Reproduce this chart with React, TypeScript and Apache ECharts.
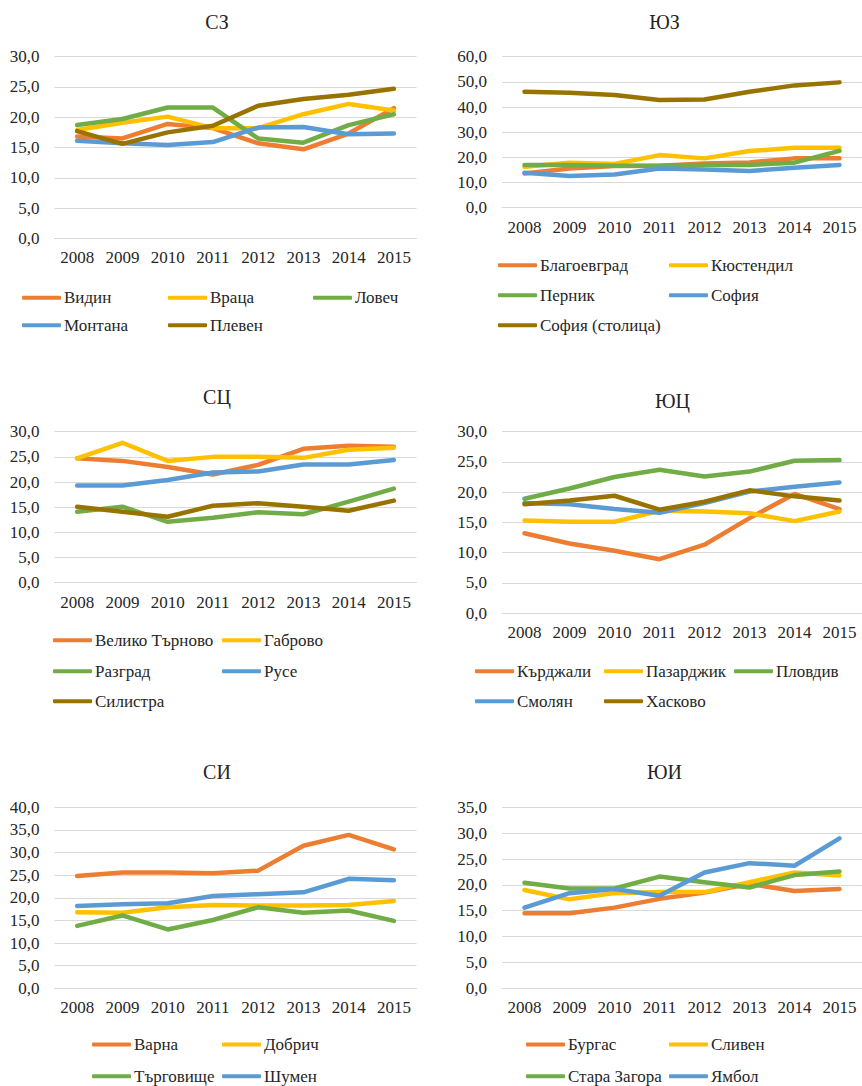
import React, { useEffect, useRef } from "react";
import * as echarts from "echarts";

// ---------- DATA ----------
const years = ["2008", "2009", "2010", "2011", "2012", "2013", "2014", "2015"];

const szNames = ["Видин", "Враца", "Ловеч", "Монтана", "Плевен"];
const szVidin = [16.8, 16.5, 18.9, 18.2, 15.7, 14.7, 17.3, 21.5];
const szVratsa = [17.9, 19.1, 20.1, 18.2, 18.2, 20.5, 22.2, 21.1];
const szLovech = [18.7, 19.7, 21.6, 21.6, 16.5, 15.8, 18.7, 20.5];
const szMontana = [16.1, 15.7, 15.4, 15.9, 18.3, 18.4, 17.2, 17.3];
const szPleven = [17.7, 15.6, 17.5, 18.6, 21.9, 23.0, 23.7, 24.7];

const yzNames = ["Благоевград", "Кюстендил", "Перник", "София", "София (столица)"];
const yzBlagoevgrad = [13.6, 15.6, 16.6, 16.7, 17.6, 18.0, 19.6, 19.6];
const yzKyustendil = [16.3, 17.9, 17.4, 20.9, 19.6, 22.5, 23.8, 23.8];
const yzPernik = [17.0, 17.0, 16.7, 16.7, 17.0, 17.0, 17.9, 22.6];
const yzSofia = [13.9, 12.6, 13.2, 15.6, 15.2, 14.6, 15.9, 17.0];
const yzSofiaCity = [46.1, 45.7, 44.8, 42.8, 43.0, 46.1, 48.6, 49.8];

const stsNames = ["Велико Търново", "Габрово", "Разград", "Русе", "Силистра"];
const stsVTarnovo = [24.7, 24.2, 23.0, 21.5, 23.4, 26.6, 27.2, 27.0];
const stsGabrovo = [24.7, 27.8, 24.2, 25.0, 25.0, 24.8, 26.4, 26.8];
const stsRazgrad = [14.1, 15.1, 12.1, 12.9, 14.0, 13.6, 16.1, 18.7];
const stsRuse = [19.3, 19.3, 20.4, 21.9, 22.1, 23.5, 23.5, 24.4];
const stsSilistra = [15.1, 14.1, 13.1, 15.3, 15.8, 15.1, 14.3, 16.3];

const yutsNames = ["Кърджали", "Пазарджик", "Пловдив", "Смолян", "Хасково"];
const yutsKardzhali = [13.2, 11.5, 10.3, 8.9, 11.3, 15.7, 19.7, 17.2];
const yutsPazardzhik = [15.3, 15.1, 15.1, 16.9, 16.8, 16.5, 15.2, 16.8];
const yutsPlovdiv = [18.9, 20.6, 22.5, 23.7, 22.6, 23.4, 25.2, 25.3];
const yutsSmolyan = [18.2, 18.0, 17.2, 16.6, 18.2, 20.1, 20.9, 21.6];
const yutsHaskovo = [18.0, 18.6, 19.4, 17.1, 18.4, 20.3, 19.3, 18.6];

const siNames = ["Варна", "Добрич", "Търговище", "Шумен"];
const siVarna = [24.8, 25.6, 25.6, 25.4, 26.0, 31.5, 33.9, 30.7];
const siDobrich = [16.8, 16.7, 17.9, 18.4, 18.3, 18.3, 18.4, 19.3];
const siTargovishte = [13.8, 16.1, 13.0, 15.1, 17.9, 16.7, 17.2, 14.9];
const siShumen = [18.2, 18.6, 18.8, 20.4, 20.8, 21.2, 24.2, 23.9];

const yuiNames = ["Бургас", "Сливен", "Стара Загора", "Ямбол"];
const yuiBurgas = [14.5, 14.5, 15.6, 17.3, 18.5, 20.2, 18.8, 19.2];
const yuiSliven = [19.0, 17.2, 18.4, 18.6, 18.6, 20.5, 22.4, 21.8];
const yuiStaraZagora = [20.4, 19.3, 19.3, 21.6, 20.5, 19.5, 21.9, 22.6];
const yuiYambol = [15.6, 18.4, 19.2, 17.9, 22.4, 24.2, 23.7, 29.0];

const titles = ["СЗ", "ЮЗ", "СЦ", "ЮЦ", "СИ", "ЮИ"];
const axisMax = [30, 60, 30, 30, 40, 35];
const axisStep = [5, 10, 5, 5, 5, 5];

// ---------- STYLE / LAYOUT ----------
const ORANGE = "#ED7D31";
const GOLD = "#FFC000";
const GREEN = "#70AD47";
const BLUE = "#5B9BD5";
const BROWN = "#997300";
const FONT = "Liberation Serif";
const TEXT = "#262626";

const panels = [
  {
    names: szNames,
    values: [szVidin, szVratsa, szLovech, szMontana, szPleven],
    colors: [ORANGE, GOLD, GREEN, BLUE, BROWN],
    grid: { left: 54.5, top: 56.7, width: 362, height: 181.6 },
    title: [217, 22],
    cols: [22, 168, 313],
    rows: [299.3, 326.7],
    perRow: 3,
  },
  {
    names: yzNames,
    values: [yzBlagoevgrad, yzKyustendil, yzPernik, yzSofia, yzSofiaCity],
    colors: [ORANGE, GOLD, GREEN, BLUE, BROWN],
    grid: { left: 502, top: 56.7, width: 360.5, height: 151 },
    title: [664.5, 22],
    cols: [498, 669],
    rows: [266.7, 296.7, 326.7],
    perRow: 2,
  },
  {
    names: stsNames,
    values: [stsVTarnovo, stsGabrovo, stsRazgrad, stsRuse, stsSilistra],
    colors: [ORANGE, GOLD, GREEN, BLUE, BROWN],
    grid: { left: 54.5, top: 431.7, width: 362, height: 151 },
    title: [217, 397],
    cols: [53, 222],
    rows: [641.7, 672.7, 702.7],
    perRow: 2,
  },
  {
    names: yutsNames,
    values: [yutsKardzhali, yutsPazardzhik, yutsPlovdiv, yutsSmolyan, yutsHaskovo],
    colors: [ORANGE, GOLD, GREEN, BLUE, BROWN],
    grid: { left: 502, top: 431.7, width: 360.5, height: 181.3 },
    title: [672.5, 401],
    cols: [475, 604, 734],
    rows: [672.7, 702.7],
    perRow: 3,
  },
  {
    names: siNames,
    values: [siVarna, siDobrich, siTargovishte, siShumen],
    colors: [ORANGE, GOLD, GREEN, BLUE],
    grid: { left: 54.5, top: 807.3, width: 362, height: 181 },
    title: [217, 772.3],
    cols: [92, 222],
    rows: [1046, 1077.7],
    perRow: 2,
  },
  {
    names: yuiNames,
    values: [yuiBurgas, yuiSliven, yuiStaraZagora, yuiYambol],
    colors: [ORANGE, GOLD, GREEN, BLUE],
    grid: { left: 502, top: 807.3, width: 360.5, height: 181 },
    title: [664.5, 772.3],
    cols: [526, 669],
    rows: [1046, 1077.7],
    perRow: 2,
  },
];

function buildOption() {
  const grid: any[] = [];
  const xAxis: any[] = [];
  const yAxis: any[] = [];
  const series: any[] = [];
  const legend: any[] = [];
  const graphic: any[] = [];

  panels.forEach((p, i) => {
    grid.push({ ...p.grid, containLabel: false });
    xAxis.push({
      type: "category",
      gridIndex: i,
      data: years,
      boundaryGap: true,
      axisLine: { show: true, lineStyle: { color: "#D9D9D9", width: 1 } },
      axisTick: { show: false },
      axisLabel: { color: TEXT, fontSize: 17, fontFamily: FONT, margin: 11, interval: 0 },
    });
    yAxis.push({
      type: "value",
      gridIndex: i,
      min: 0,
      max: axisMax[i],
      interval: axisStep[i],
      axisLine: { show: false },
      axisTick: { show: false },
      splitLine: { show: true, lineStyle: { color: "#D9D9D9", width: 1 } },
      axisLabel: {
        color: TEXT,
        fontSize: 17,
        fontFamily: FONT,
        margin: 15,
        formatter: (v: number) => v.toFixed(1).replace(".", ","),
      },
    });
    p.names.forEach((name, k) => {
      series.push({
        type: "line",
        name,
        xAxisIndex: i,
        yAxisIndex: i,
        data: p.values[k],
        symbol: "none",
        showSymbol: false,
        color: p.colors[k],
        lineStyle: { width: 4.5, color: p.colors[k], cap: "round", join: "round" },
        z: 2 + k,
      });
      const r = Math.floor(k / p.perRow);
      const c = k % p.perRow;
      legend.push({
        data: [name],
        left: p.cols[c],
        top: p.rows[r] - 10,
        padding: 0,
        icon: "roundRect",
        itemWidth: 39,
        itemHeight: 4,
        selectedMode: false,
        textStyle: { color: TEXT, fontSize: 17, fontFamily: FONT, padding: [0, 0, 0, -2] },
      });
    });
    graphic.push({
      type: "text",
      x: p.title[0],
      y: p.title[1],
      style: {
        text: titles[i],
        fontSize: 20,
        fontFamily: FONT,
        fill: TEXT,
        align: "center",
        verticalAlign: "middle",
      },
    });
  });

  return {
    animation: false,
    backgroundColor: "#ffffff",
    textStyle: { fontFamily: FONT },
    grid,
    xAxis,
    yAxis,
    series,
    legend,
    graphic,
  };
}

export default function App() {
  const ref = useRef<HTMLDivElement>(null);
  useEffect(() => {
    if (!ref.current) return;
    const chart = echarts.init(ref.current, undefined, { renderer: "svg" });
    chart.setOption(buildOption() as any);
    return () => chart.dispose();
  }, []);
  return (
    <div
      ref={ref}
      style={{ position: "fixed", left: 0, top: 0, width: 862, height: 1086, background: "#fff" }}
    />
  );
}
